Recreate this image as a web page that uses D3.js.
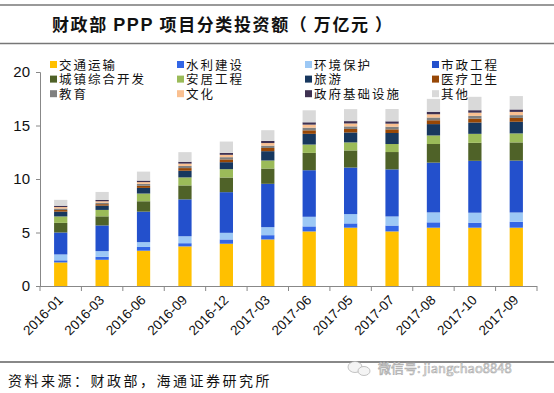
<!DOCTYPE html>
<html>
<head>
<meta charset="utf-8">
<script src="https://cdn.jsdelivr.net/npm/d3@7"></script>
<style>
  body { margin: 0; background: #fff; }
  svg { display: block; }
  .cjk { font-family: "Noto Sans CJK SC", sans-serif; }
  .num { font-family: "Liberation Sans", Arial, sans-serif; }
</style>
</head>
<body>
<div id="chart"></div>
<script>
const categories = ['2016-01', '2016-03', '2016-06', '2016-09', '2016-12', '2017-03', '2017-06', '2017-05', '2017-07', '2017-08', '2017-10', '2017-09'];

const seriesNames = ['交通运输', '水利建设', '环境保护', '市政工程', '城镇综合开发', '安居工程', '旅游', '医疗卫生', '教育', '文化', '政府基础设施', '其他'];
const seriesColors = ['#ffc000', '#3366e6', '#9cc8f5', '#2350cc', '#4f6228', '#9bbb59', '#17375e', '#974706', '#808080', '#fac090', '#3f3151', '#d9d9d9'];

const transport = [2.2, 2.45, 3.3, 3.7, 3.95, 4.35, 5.1, 5.45, 5.1, 5.45, 5.45, 5.45];
const water = [0.2, 0.28, 0.35, 0.3, 0.4, 0.4, 0.47, 0.4, 0.55, 0.5, 0.47, 0.55];
const environment = [0.55, 0.53, 0.45, 0.65, 0.62, 0.75, 0.9, 0.87, 0.85, 0.93, 0.93, 0.87];
const municipal = [2.05, 2.4, 2.85, 3.45, 3.8, 4.05, 4.35, 4.35, 4.4, 4.65, 4.85, 4.85];
const urban = [0.9, 0.85, 0.97, 1.3, 1.37, 1.43, 1.62, 1.6, 1.62, 1.74, 1.68, 1.7];
const housing = [0.6, 0.6, 0.72, 0.75, 0.78, 0.75, 0.78, 0.75, 0.75, 0.8, 0.84, 0.84];
const tourism = [0.45, 0.4, 0.53, 0.62, 0.65, 0.87, 1.0, 0.93, 1.03, 1.06, 1.06, 1.09];
const medical = [0.15, 0.14, 0.2, 0.25, 0.26, 0.3, 0.33, 0.33, 0.34, 0.36, 0.36, 0.36];
const education = [0.14, 0.13, 0.17, 0.2, 0.21, 0.22, 0.25, 0.24, 0.25, 0.26, 0.26, 0.26];
const culture = [0.14, 0.14, 0.17, 0.22, 0.22, 0.24, 0.28, 0.27, 0.28, 0.3, 0.3, 0.3];
const government = [0.12, 0.12, 0.14, 0.17, 0.18, 0.2, 0.22, 0.22, 0.22, 0.23, 0.23, 0.23];
const other = [0.55, 0.75, 0.84, 0.9, 1.06, 1.0, 1.12, 1.12, 1.15, 1.21, 1.25, 1.25];

const yTicks = [0, 5, 10, 15, 20];

const seriesValues = [transport, water, environment, municipal, urban, housing, tourism, medical, education, culture, government, other];

const W = 554, H = 393;
const svg = d3.select('#chart').append('svg').attr('width', W).attr('height', H);

// title block with rules
svg.append('line').attr('x1', 0).attr('x2', W).attr('y1', 5).attr('y2', 5).attr('stroke', '#777').attr('stroke-width', 1.5);
svg.append('line').attr('x1', 0).attr('x2', W).attr('y1', 43.5).attr('y2', 43.5).attr('stroke', '#777').attr('stroke-width', 1.5);
const title = svg.append('text').attr('x', 52).attr('y', 31).attr('font-size', 17).attr('font-weight', 'bold')
  .attr('class', 'cjk').attr('fill', '#111').attr('letter-spacing', 1.6);
title.append('tspan').text('财政部 ');
title.append('tspan').attr('class', 'num').attr('font-size', 18).text('PPP');
title.append('tspan').text(' 项目分类投资额（ 万亿元 ）');

// data table for stacking
const table = categories.map((c, i) => {
  const row = { cat: c };
  seriesNames.forEach((s, j) => { row[s] = seriesValues[j][i]; });
  return row;
});
const stacked = d3.stack().keys(seriesNames)(table);

const x = d3.scaleBand().domain(categories).range([40, 537]).paddingInner(0.68).paddingOuter(0.34);
const y = d3.scaleLinear().domain([0, 20]).range([286, 72]);

// bars
const layers = svg.append('g').selectAll('g').data(stacked).join('g').attr('fill', (d, i) => seriesColors[i]);
layers.selectAll('rect').data(d => d).join('rect')
  .attr('x', d => x(d.data.cat))
  .attr('width', x.bandwidth())
  .attr('y', d => y(d[1]))
  .attr('height', d => y(d[0]) - y(d[1]));

// y axis
const yAxis = svg.append('g').attr('transform', 'translate(40,0)')
  .call(d3.axisLeft(y).tickValues(yTicks).tickSize(4).tickPadding(6));
yAxis.select('.domain').attr('stroke', '#888');
yAxis.selectAll('.tick line').attr('stroke', '#888');
yAxis.selectAll('text').attr('class', 'num').attr('font-size', 15).attr('fill', '#111');

// x axis: line + ticks at band boundaries
const xg = svg.append('g');
xg.append('line').attr('x1', 40).attr('x2', 537).attr('y1', 286.5).attr('y2', 286.5).attr('stroke', '#888');
const step = x.step();
xg.selectAll('line.tk').data(d3.range(categories.length + 1)).join('line').attr('class', 'tk')
  .attr('x1', i => 40 + i * step).attr('x2', i => 40 + i * step)
  .attr('y1', 286).attr('y2', 291).attr('stroke', '#888');
xg.selectAll('text').data(categories).join('text')
  .attr('class', 'num').attr('font-size', 13.5).attr('fill', '#111')
  .attr('text-anchor', 'end')
  .attr('transform', d => `translate(${x(d) + x.bandwidth() / 2 + 3},${301}) rotate(-45)`)
  .text(d => d);

// legend
const legend = svg.append('g');
const cols = [50, 177, 305, 432];
seriesNames.forEach((s, i) => {
  const cx = cols[i % 4];
  const cy = 65 + Math.floor(i / 4) * 14.6;
  legend.append('rect').attr('x', cx).attr('y', cy - 4).attr('width', 7).attr('height', 7).attr('fill', seriesColors[i]);
  legend.append('text').attr('x', cx + 9).attr('y', cy + 4.5).attr('class', 'cjk').attr('font-size', 12.5)
    .attr('letter-spacing', 2).attr('fill', '#111').text(s);
});

// footer
svg.append('line').attr('x1', 0).attr('x2', W).attr('y1', 362).attr('y2', 362).attr('stroke', '#888').attr('stroke-width', 2);
svg.append('text').attr('x', 8).attr('y', 386).attr('class', 'cjk').attr('font-size', 14)
  .attr('letter-spacing', 2.5).attr('fill', '#111').text('资料来源：财政部，海通证券研究所');
// watermark
const wm = svg.append('g').attr('fill', '#f4f4f4').attr('stroke', '#aaa').attr('stroke-width', 0.7);
wm.append('ellipse').attr('cx', 355).attr('cy', 367).attr('rx', 7).attr('ry', 5.5);
wm.append('ellipse').attr('cx', 364).attr('cy', 371).attr('rx', 6).attr('ry', 4.5);
wm.append('text').attr('x', 378).attr('y', 373).attr('class', 'cjk').attr('font-size', 13)
  .attr('stroke-width', 0.6).text('微信号: jiangchao8848');
</script>
</body>
</html>
